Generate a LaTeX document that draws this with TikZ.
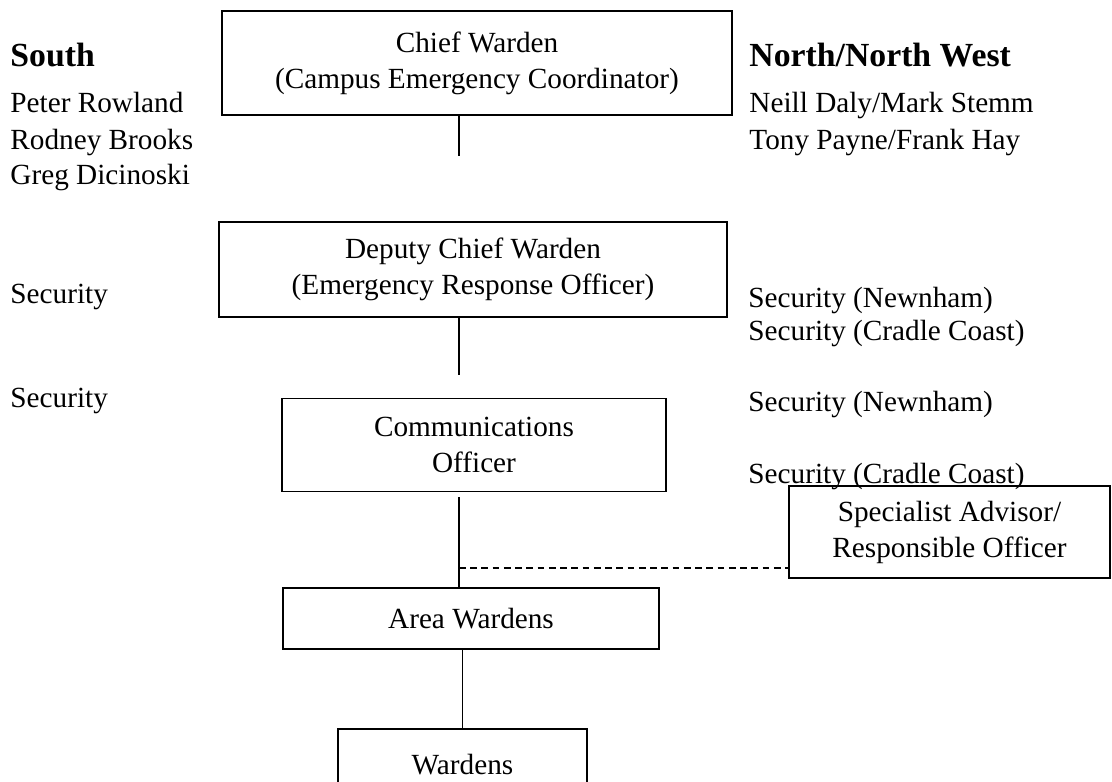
\documentclass[tikz,border=0pt]{standalone}
\usepackage{fontspec}
\setmainfont{Liberation Serif}
\usetikzlibrary{positioning}
\newdimen\pxu
\pxu=0.015625cm
\tikzset{
role/.style = {rectangle, draw=black, line width=0.6pt, minimum width=#1,
               align=center, inner sep=0pt,
               font=\fontsize{13}{16}\selectfont},
role/.default = 200\pxu % width of the box
}
\tikzset{
staff/.style = {anchor=base west, inner sep=0pt, font=\fontsize{13}{16}\selectfont},
region/.style = {anchor=base west, inner sep=0pt, font=\fontsize{15}{16}\selectfont\bfseries}
}

\begin{document}
\begin{tikzpicture}[x=\pxu, y=-\pxu]
\clip (0,0) rectangle (1112,782);

% boxes of the chart
\node[role=510\pxu, minimum height=104\pxu] (chief) at (477,63) {Chief Warden\\(Campus Emergency Coordinator)};
\node[role=508\pxu, minimum height=95\pxu] (deputy) at (473,269.5) {Deputy Chief Warden\\(Emergency Response Officer)};
\node[role=384\pxu, minimum height=93\pxu] (comms) at (474,445) {Communications\\Officer};
\node[role=321\pxu, minimum height=92\pxu] (advisor) at (949.5,532) {Specialist Advisor/\\Responsible Officer};
\node[role=376\pxu, minimum height=61\pxu] (area) at (471,618.5) {Area Wardens};
\node[role=249\pxu, minimum height=72\pxu] (wardens) at (462.5,765) {Wardens};

% names on the left
\node[region] (south) at (10,67) {South};
\node[staff] (rowland) at (10,113) {Peter Rowland};
\node[staff] (brooks) at (10,149) {Rodney Brooks};
\node[staff] (dicinoski) at (10,185) {Greg Dicinoski};
\node[staff] (securityS1) at (10,303) {Security};
\node[staff] (securityS2) at (10,407) {Security};

% names on the right
\node[region] (north) at (749,67) {North/North West};
\node[staff] (daly) at (749,113) {Neill Daly/Mark Stemm};
\node[staff] (payne) at (749,149) {Tony Payne/Frank Hay};
\node[staff] (newnham1) at (748,307) {Security (Newnham)};
\node[staff] (cradle1) at (748,340) {Security (Cradle Coast)};
\node[staff] (newnham2) at (748,411) {Security (Newnham)};
\node[staff] (cradle2) at (748,483) {Security (Cradle Coast)};

% connectors
\coordinate (spine) at (459,0);
\coordinate (chiefEnd) at (459,156);
\coordinate (deputyEnd) at (459,375);
\coordinate (commsStart) at (459,497);
\coordinate (tee) at (459,568);
\draw[line width=0.5pt] (chief.south -| spine) -- (chiefEnd);
\draw[line width=0.5pt] (deputy.south -| spine) -- (deputyEnd);
\draw[line width=0.5pt] (commsStart) -- (area.north -| spine);
\draw[line width=0.6pt, dash pattern=on 3pt off 2pt] (tee) -- (tee -| advisor.west);
\draw[line width=0.4pt] (area.south -| wardens) -- (wardens.north);
\end{tikzpicture}
\end{document}
